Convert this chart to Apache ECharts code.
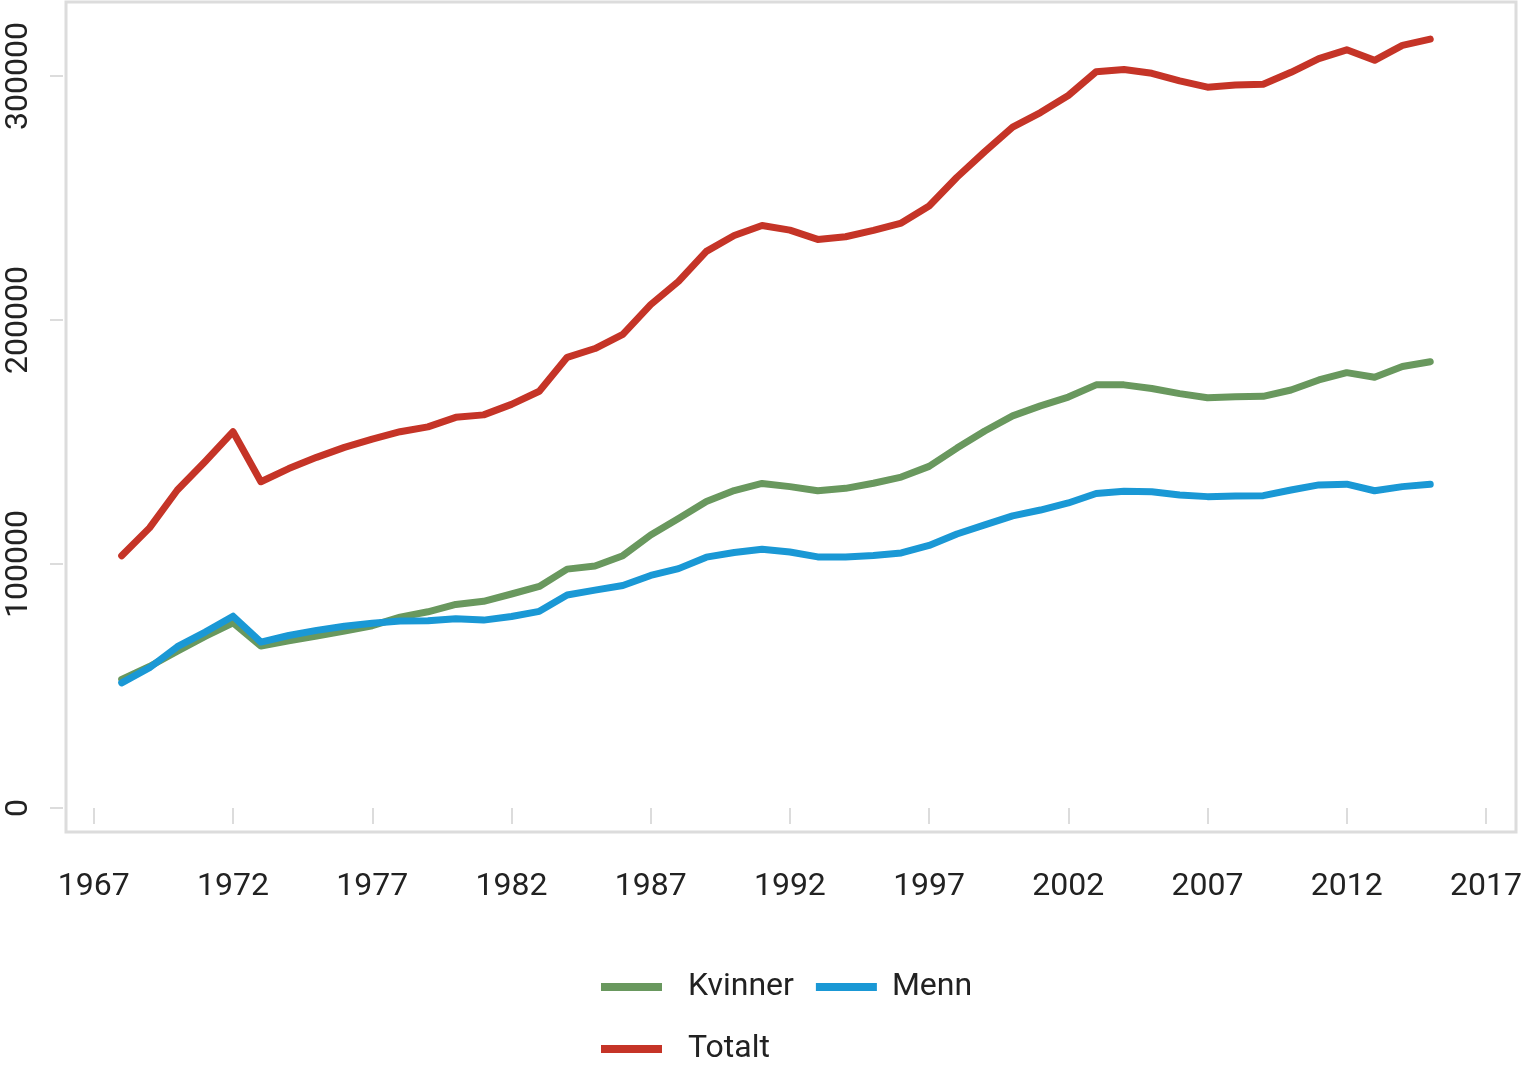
<!DOCTYPE html>
<html>
<head>
<meta charset="utf-8">
<script src="https://cdn.jsdelivr.net/npm/echarts@6/dist/echarts.min.js"></script>
<style>html,body{margin:0;padding:0;background:#fff}#c{width:1526px;height:1066px}</style>
</head>
<body>
<div id="c"></div>
<script>
const years = [];
for (let y = 1968; y <= 2015; y++) years.push(y);

const kvinner = [52700,58000,64300,70300,75900,66400,68500,70500,72500,74700,78200,80400,83400,84700,87700,90800,97900,99200,103400,111900,118600,125600,130100,133000,131700,130000,131000,133100,135600,140000,147500,154500,160700,164800,168400,173400,173400,171900,169800,168100,168500,168700,171300,175400,178400,176500,180900,182900];
const menn = [51300,57500,66100,72100,78600,68000,70700,72800,74500,75700,76600,76700,77600,77000,78500,80600,87300,89300,91200,95300,98100,102800,104700,106000,104900,102900,102900,103500,104500,107600,112300,116000,119700,122100,125000,128900,129800,129600,128300,127600,127900,128000,130300,132400,132700,130000,131700,132700];
const totalt = [103400,114800,130300,142000,154200,133700,139100,143700,147800,151200,154200,156200,160100,161100,165400,170800,184700,188300,194100,206300,215800,228100,234600,238700,236800,233000,234100,236700,239700,246700,258500,269000,279000,285000,292000,301700,302600,301100,298000,295400,296300,296600,301500,307100,310700,306400,312500,315100];

const xTicks = [1967,1972,1977,1982,1987,1992,1997,2002,2007,2012,2017];
const yTicks = [0,100000,200000,300000];

const FONT = 'Roboto, "Open Sans", sans-serif';
const pairs = arr => years.map((y, i) => [y, arr[i]]);

const chart = echarts.init(document.getElementById('c'), null, {renderer: 'canvas'});
chart.setOption({
  animation: false,
  backgroundColor: '#fff',
  grid: {left: 66, right: 10, top: 2, bottom: 234, containLabel: false, outerBoundsMode: 'none', show: true, borderColor: '#dcdcdc', borderWidth: 3, backgroundColor: '#fff'},
  xAxis: {
    type: 'value', min: 1966, max: 2018.08, offset: 3,
    axisLine: {show: false},
    splitLine: {show: false},
    axisTick: {show: true, length: 16, lineStyle: {color: '#dcdcdc', width: 2}, customValues: xTicks},
    axisLabel: {margin: 36, fontFamily: FONT, fontSize: 32, color: '#222', customValues: xTicks, formatter: v => String(v)}
  },
  yAxis: {
    type: 'value', min: -9836, max: 330300, offset: 3,
    axisLine: {show: false},
    splitLine: {show: false},
    axisTick: {show: true, length: 13, lineStyle: {color: '#dcdcdc', width: 2}, customValues: yTicks},
    axisLabel: {rotate: 90, margin: 28, fontFamily: FONT, fontSize: 32, color: '#222', customValues: yTicks, formatter: v => String(v)}
  },
  legend: {
    left: 601, top: 967, width: 420, padding: 0,
    itemWidth: 61, itemHeight: 8, itemGap: 22,
    icon: 'rect',
    textStyle: {fontFamily: FONT, fontSize: 32, color: '#222', padding: [6, 0, 0, 21], lineHeight: 34},
    data: [
      {name: 'Kvinner'},
      {name: 'Menn', textStyle: {padding: [6, 0, 0, 10]}},
      {name: 'Totalt'}
    ]
  },
  series: [
    {name: 'Kvinner', type: 'line', data: pairs(kvinner), showSymbol: false, lineStyle: {width: 7, color: '#69985e', cap: 'round', join: 'round'}, itemStyle: {color: '#69985e'}},
    {name: 'Menn', type: 'line', data: pairs(menn), showSymbol: false, lineStyle: {width: 7, color: '#1a98d5', cap: 'round', join: 'round'}, itemStyle: {color: '#1a98d5'}},
    {name: 'Totalt', type: 'line', data: pairs(totalt), showSymbol: false, lineStyle: {width: 7, color: '#c53427', cap: 'round', join: 'round'}, itemStyle: {color: '#c53427'}}
  ]
});
</script>
</body>
</html>
